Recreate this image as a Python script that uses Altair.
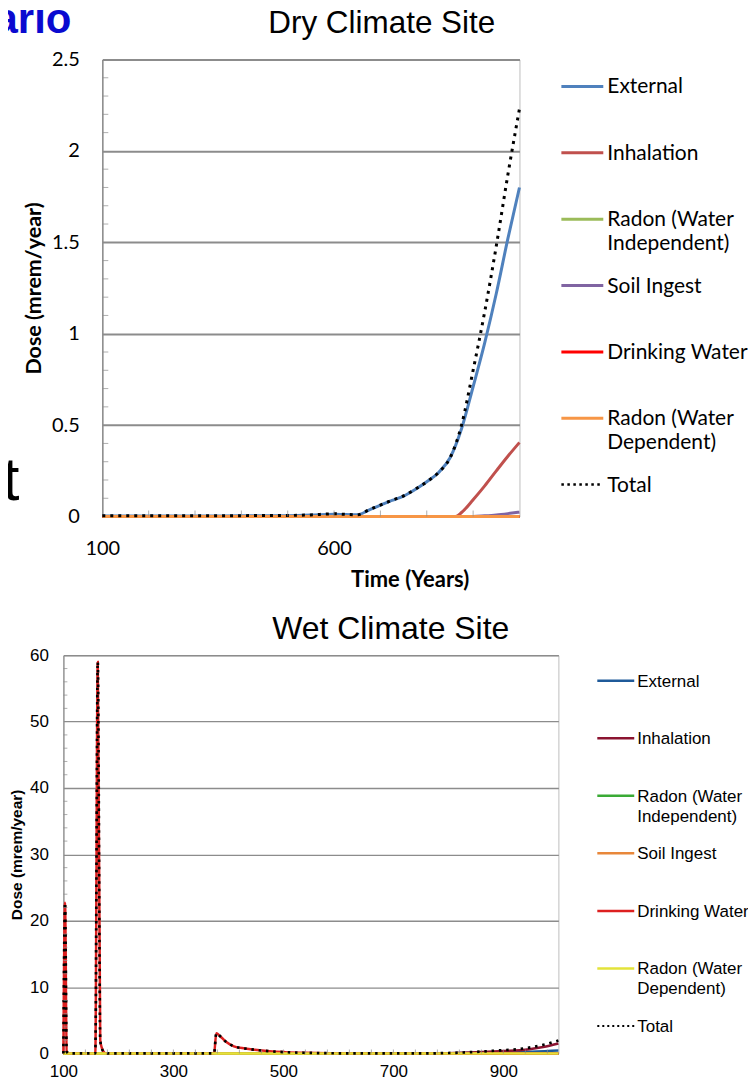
import altair as alt
import pandas as pd

SERIES = ["External", "Inhalation", "Radon (Water Independent)", "Soil Ingest",
          "Drinking Water", "Radon (Water Dependent)"]
LEGEND_KEYS = SERIES + ["Total"]
LEGEND_LABELS = ["External", "Inhalation", "Radon (Water\nIndependent)", "Soil Ingest",
                 "Drinking Water", "Radon (Water\nDependent)", "Total"]

# ---------------- Dry climate site ----------------
dry_colors = ["#4F81BD", "#C0504D", "#9BBB59", "#8064A2", "#FF0000", "#F79646"]
dry_years = [100, 200, 300, 400, 500, 550, 600, 625, 650, 675, 700, 725, 750, 775,
             800, 825, 850, 875, 900, 925, 950, 975, 1000]
dry_external = [0.003, 0.003, 0.003, 0.004, 0.005, 0.008, 0.013, 0.011, 0.010, 0.035,
                0.062, 0.088, 0.112, 0.148, 0.19, 0.24, 0.32, 0.48, 0.71, 0.95, 1.22,
                1.52, 1.80]
dry_total = [0.004, 0.004, 0.004, 0.005, 0.006, 0.009, 0.015, 0.012, 0.010, 0.036,
             0.063, 0.089, 0.113, 0.149, 0.19, 0.24, 0.32, 0.50, 0.80, 1.12, 1.48,
             1.87, 2.23]
dry_inh_years = [100, 850, 862, 875, 900, 925, 950, 975, 1000]
dry_inhalation = [0, 0, 0, 0.022, 0.092, 0.168, 0.25, 0.33, 0.405]
dry_soil_years = [100, 900, 925, 950, 975, 1000]
dry_soil = [0, 0, 0.004, 0.009, 0.016, 0.024]
dry_flat_years = [100, 1000]
dry_flat = [0, 0]
dry_y_labels = [0, 0.5, 1, 1.5, 2, 2.5]
dry_y_minor = [0.1, 0.2, 0.3, 0.4, 0.6, 0.7, 0.8, 0.9, 1.1, 1.2, 1.3, 1.4,
               1.6, 1.7, 1.8, 1.9, 2.1, 2.2, 2.3, 2.4]
dry_x_labels = [100, 600]
dry_x_minor = [200, 300, 400, 500, 600, 700, 800, 900]

# ---------------- Wet climate site ----------------
wet_colors = ["#1F5A99", "#8B1431", "#3AAA35", "#E8873A", "#DD2020", "#E3E33A"]
wet_dw_years = [100, 103, 106, 110, 158, 162.5, 167, 170, 175, 180, 374, 378, 385,
                395, 410, 430, 448, 475, 503, 540, 580, 640, 700, 1000]
wet_drinking = [0, 22.7, 0.3, 0, 0, 59.0, 2.0, 0.8, 0.1, 0, 0, 3.05, 2.6, 1.8, 1.08,
                0.75, 0.55, 0.33, 0.2, 0.1, 0.04, 0.01, 0, 0]
wet_end_years = [100, 750, 800, 850, 900, 930, 950, 975, 1000]
wet_inhalation = [0, 0, 0.05, 0.18, 0.38, 0.5, 0.68, 1.0, 1.5]
wet_external = [0, 0, 0.02, 0.06, 0.12, 0.18, 0.25, 0.35, 0.45]
wet_flat_years = [100, 1000]
wet_flat = [0, 0]
wet_total_years = [100, 103, 106, 110, 158, 162.5, 167, 170, 175, 180, 374, 378, 385,
                   395, 410, 430, 448, 475, 503, 540, 580, 640, 700, 750, 800, 850,
                   900, 930, 950, 975, 1000]
wet_total = [0, 22.7, 0.3, 0, 0, 59.0, 2.0, 0.8, 0.1, 0, 0, 3.05, 2.6, 1.8, 1.08,
             0.75, 0.55, 0.33, 0.2, 0.1, 0.04, 0.01, 0, 0, 0.07, 0.24, 0.5, 0.68,
             0.93, 1.35, 1.95]
wet_y_labels = [0, 10, 20, 30, 40, 50, 60]
wet_y_minor = [2, 4, 6, 8, 12, 14, 16, 18, 22, 24, 26, 28, 32, 34, 36, 38,
               42, 44, 46, 48, 52, 54, 56, 58]
wet_x_labels = [100, 300, 500, 700, 900]
wet_x_minor = [140, 180, 220, 260, 300, 340, 380, 420, 460, 500, 540, 580, 620,
               660, 700, 740, 780, 820, 860, 900, 940, 980]


def long_df(pairs):
    rows = []
    for name, ys, vs in pairs:
        for yr, v in zip(ys, vs):
            rows.append({"series": name, "year": yr, "dose": v})
    return pd.DataFrame(rows)


dry_df = long_df([
    ("External", dry_years, dry_external),
    ("Inhalation", dry_inh_years, dry_inhalation),
    ("Radon (Water Independent)", dry_flat_years, dry_flat),
    ("Soil Ingest", dry_soil_years, dry_soil),
    ("Drinking Water", dry_flat_years, dry_flat),
    ("Radon (Water Dependent)", dry_flat_years, dry_flat),
])
dry_total_df = pd.DataFrame({"year": dry_years, "dose": dry_total})

wet_df = long_df([
    ("External", wet_end_years, wet_external),
    ("Inhalation", wet_end_years, wet_inhalation),
    ("Radon (Water Independent)", wet_flat_years, wet_flat),
    ("Soil Ingest", wet_flat_years, wet_flat),
    ("Drinking Water", wet_dw_years, wet_drinking),
    ("Radon (Water Dependent)", wet_flat_years, wet_flat),
])
wet_total_df = pd.DataFrame({"year": wet_total_years, "dose": wet_total})


def plot_layers(df, total_df, colors, W, H, xdom, ydom, x_axis, y_axis, xtitle, ytitle,
                line_w, total_w, dash, xminor, yminor, tick_len):
    xs = alt.Scale(domain=xdom, nice=False, zero=False)
    ys = alt.Scale(domain=ydom, nice=False, zero=True)
    lines = alt.Chart(df).mark_line(strokeWidth=line_w, interpolate="monotone").encode(
        x=alt.X("year:Q", scale=xs, axis=x_axis, title=xtitle),
        y=alt.Y("dose:Q", scale=ys, axis=y_axis, title=ytitle),
        color=alt.Color("series:N", scale=alt.Scale(domain=SERIES, range=colors), legend=None),
    )
    total = alt.Chart(total_df).mark_line(color="black", strokeWidth=total_w, strokeDash=dash,
                                          interpolate="monotone").encode(
        x=alt.X("year:Q", scale=xs, title=xtitle),
        y=alt.Y("dose:Q", scale=ys, title=ytitle),
    )
    xt = alt.Chart(pd.DataFrame({"year": xminor})).mark_tick(
        orient="vertical", size=tick_len, thickness=1, color="#8C8C8C").encode(
        x=alt.X("year:Q", scale=xs, title=xtitle),
        y=alt.value(H - tick_len / 2),
    )
    yt = alt.Chart(pd.DataFrame({"dose": yminor})).mark_tick(
        orient="horizontal", size=tick_len, thickness=1, color="#8C8C8C").encode(
        y=alt.Y("dose:Q", scale=ys, title=ytitle),
        x=alt.value(tick_len / 2),
    )
    return alt.layer(lines, total, xt, yt)


def legend_layers(colors, y_range, x1, x2, tx, font, size, dy, lh, stroke_w, dash, dash_w):
    yscale = alt.Scale(type="point", domain=LEGEND_KEYS, range=y_range, padding=0)
    comp = pd.DataFrame({"series": SERIES})
    tot = pd.DataFrame({"series": ["Total"]})
    labels = pd.DataFrame({"series": LEGEND_KEYS, "label": LEGEND_LABELS})
    rules = alt.Chart(comp).mark_rule(strokeWidth=stroke_w).encode(
        x=alt.value(x1), x2=alt.value(x2),
        y=alt.Y("series:N", scale=yscale, axis=None),
        color=alt.Color("series:N", scale=alt.Scale(domain=SERIES, range=colors), legend=None),
    )
    trule = alt.Chart(tot).mark_rule(strokeWidth=dash_w, strokeDash=dash, color="black").encode(
        x=alt.value(x1), x2=alt.value(x2),
        y=alt.Y("series:N", scale=yscale, axis=None),
    )
    text = alt.Chart(labels).mark_text(
        align="left", baseline="alphabetic", dy=dy, lineBreak="\n", lineHeight=lh,
        font=font, fontSize=size, color="black").encode(
        x=alt.value(tx),
        y=alt.Y("series:N", scale=yscale, axis=None),
        text="label:N",
    )
    return alt.layer(rules, trule, text)


def label_text(txt, x, y, font, size, weight="normal", color="black", align="center",
               baseline="middle"):
    return alt.Chart(pd.DataFrame({"t": [txt]})).mark_text(
        font=font, fontSize=size, fontWeight=weight, color=color, align=align,
        baseline=baseline).encode(text="t:N", x=alt.value(x), y=alt.value(y))


# invisible layout anchor (fixes the top-left of the drawing's bounds)
anchor = alt.Chart(pd.DataFrame({"a": [0]})).mark_rule(strokeOpacity=0, strokeWidth=1).encode(
    x=alt.value(-130), x2=alt.value(-129), y=alt.value(-75), y2=alt.value(-75))

# ---------------- Dry panel ----------------
DRY_W, DRY_H = 418, 458
dry_x_axis = alt.Axis(values=dry_x_labels, labelFont="Lato", labelFontSize=20,
                      labelColor="black", labelPadding=22, labelFlush=False,
                      ticks=False, tickSize=0,
                      domainColor="#8C8C8C", domainWidth=1.5, grid=False,
                      titleFont="Lato", titleFontSize=22, titleFontWeight="bold",
                      titleColor="black", titleX=308, titleY=63, titleBaseline="middle")
dry_y_axis = alt.Axis(values=dry_y_labels, format="~g", labelFont="Lato", labelFontSize=20,
                      labelColor="black", labelPadding=23, labelFlush=False,
                      ticks=False, tickSize=0,
                      domainColor="#8C8C8C", domainWidth=1.5, grid=True,
                      gridColor="#8C8C8C", gridWidth=2,
                      titleFont="Lato", titleFontSize=21.5, titleFontWeight="bold",
                      titleColor="black", titleX=-68, titleBaseline="middle")
dry_plot = plot_layers(dry_df, dry_total_df, dry_colors, DRY_W, DRY_H, [100, 1000], [0, 2.5],
                       dry_x_axis, dry_y_axis, "Time (Years)", "Dose (mrem/year)",
                       3, 3, [3, 5], dry_x_minor, dry_y_minor, 6)
dry_legend = legend_layers(dry_colors, [27, 426], 460, 502, 506, "Lato", 21, 7, 24, 3,
                           [2.5, 3.5], 2.5)
dry = alt.layer(
    dry_plot, dry_legend,
    label_text("Dry Climate Site", 280, -36, "Liberation Sans", 31.5),
    label_text("ario", -31, -27, "Liberation Sans", 42, weight="bold", color="#0A0AD0",
               align="right", baseline="alphabetic"),
    label_text("t", -83, 441, "Liberation Sans", 62, align="right", baseline="alphabetic"),
    anchor,
).resolve_scale(y="independent").properties(width=DRY_W, height=DRY_H)

# ---------------- Wet panel ----------------
WET_W, WET_H = 496, 399
wet_x_axis = alt.Axis(values=wet_x_labels, labelFont="Liberation Sans", labelFontSize=17,
                      labelColor="black", labelPadding=10, labelFlush=False,
                      ticks=False, tickSize=0,
                      domainColor="#8C8C8C", domainWidth=1.2, grid=False)
wet_y_axis = alt.Axis(values=wet_y_labels, labelFont="Liberation Sans", labelFontSize=17,
                      labelColor="black", labelPadding=15, labelFlush=False,
                      ticks=False, tickSize=0,
                      domainColor="#8C8C8C", domainWidth=1.2, grid=True,
                      gridColor="#8C8C8C", gridWidth=1.3,
                      titleFont="Liberation Sans", titleFontSize=15.5, titleFontWeight="bold",
                      titleColor="black", titleX=-46.5, titleBaseline="middle")
wet_plot = plot_layers(wet_df, wet_total_df, wet_colors, WET_W, WET_H, [100, 1000], [0, 60],
                       wet_x_axis, wet_y_axis, None, "Dose (mrem/year)",
                       2.5, 2.7, [2.5, 4.8], wet_x_minor, wet_y_minor, 4)
wet_legend = legend_layers(wet_colors, [25.5, 371.5], 535, 572, 575, "Liberation Sans", 17, 6,
                           20, 2.5, [2, 3], 2)
wet = alt.layer(
    wet_plot, wet_legend,
    label_text("Wet Climate Site", 328, -26, "Liberation Sans", 32),
).resolve_scale(y="independent").properties(width=WET_W, height=WET_H)

chart = alt.vconcat(dry, wet, spacing=139, bounds="flush", center=True).resolve_scale(
    color="independent", x="independent", y="independent").properties(
    padding={"left": -36.5, "top": -25.5, "right": -2, "bottom": -4},
    background="white",
).configure_view(stroke="#BFBFBF", strokeWidth=1)

chart.save("out.html", embed_options={"renderer": "svg", "actions": False})
